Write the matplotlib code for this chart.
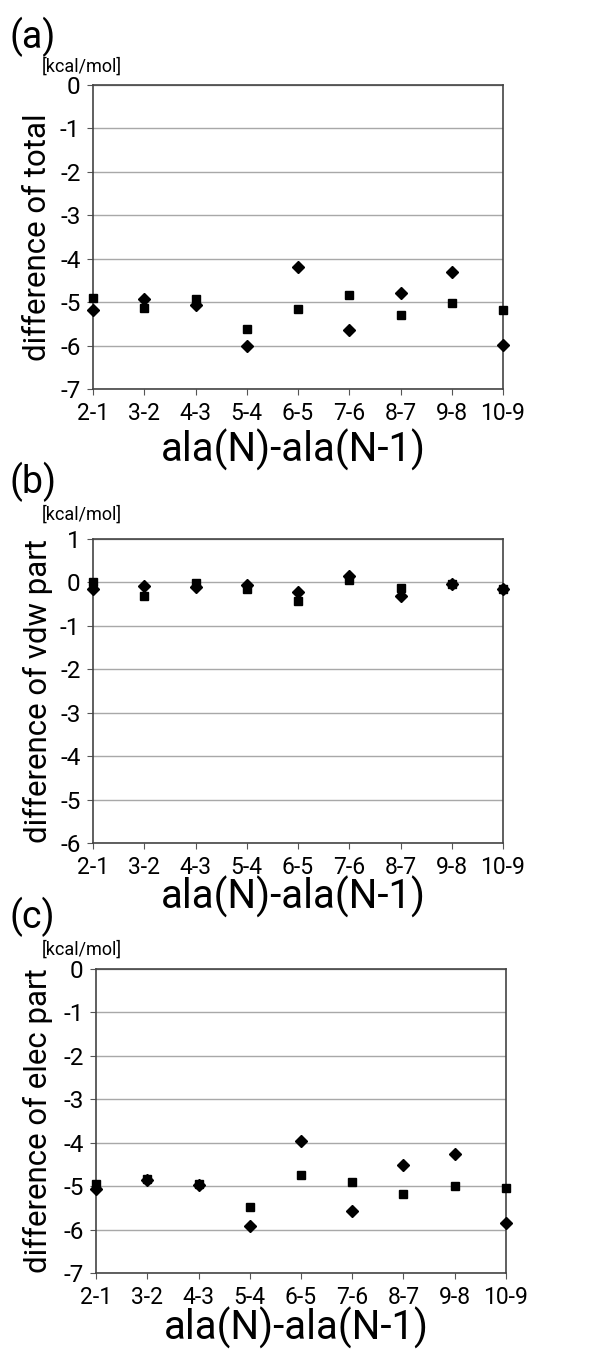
import matplotlib.pyplot as plt

# x categories
pairs = ['2-1', '3-2', '4-3', '5-4', '6-5', '7-6', '8-7', '9-8', '10-9']

# (a) total
total_diamond = [-5.19, -4.93, -5.06, -6.00, -4.20, -5.64, -4.80, -4.31, -5.98]
total_square = [-4.90, -5.13, -4.93, -5.62, -5.16, -4.83, -5.30, -5.03, -5.19]

# (b) vdw part
vdw_diamond = [-0.15, -0.08, -0.10, -0.06, -0.23, 0.14, -0.31, -0.03, -0.15]
vdw_square = [0.02, -0.31, -0.01, -0.15, -0.43, 0.06, -0.13, -0.04, -0.15]

# (c) elec part
elec_diamond = [-5.06, -4.85, -4.97, -5.92, -3.97, -5.58, -4.52, -4.27, -5.86]
elec_square = [-4.94, -4.83, -4.94, -5.48, -4.74, -4.90, -5.18, -5.00, -5.05]

plt.rcParams['font.family'] = ['Roboto', 'DejaVu Sans']

W, H = 605, 1353
fig = plt.figure(figsize=(W / 100, H / 100), dpi=100)


def px(x0, y0, x1, y1):
    return [x0 / W, 1 - y1 / H, (x1 - x0) / W, (y1 - y0) / H]


# tag, y label, diamonds, squares, y range, axes box (px), xlabel y, tag y, unit y
panels = [
    ('(a)', 'difference of total', total_diamond, total_square, (-7, 0), (93, 85, 503, 389), 450, 37, 67),
    ('(b)', 'difference of vdw part', vdw_diamond, vdw_square, (-6, 1), (93, 539, 503, 843), 897, 482, 515),
    ('(c)', 'difference of elec part', elec_diamond, elec_square, (-7, 0), (96, 969, 506, 1273), 1328, 917, 950),
]

x = list(range(len(pairs)))
for tag, ylab, dia, sq, ylim, box, xlab_y, tag_y, unit_y in panels:
    x0, y0, x1, y1 = box
    ax = fig.add_axes(px(x0, y0, x1, y1))
    ax.plot(x, dia, linestyle='none', marker='D', color='black', markersize=6.5, clip_on=False, zorder=3)
    ax.plot(x, sq, linestyle='none', marker='s', color='black', markersize=6, clip_on=False, zorder=3)
    ax.set_xlim(0, len(pairs) - 1)
    ax.set_ylim(*ylim)
    ax.set_xticks(x)
    ax.set_xticklabels(pairs, fontsize=16.5)
    ax.set_yticks(range(ylim[0], ylim[1] + 1))
    ax.set_yticklabels([str(v) for v in range(ylim[0], ylim[1] + 1)], fontsize=17.5)
    ax.tick_params(direction='out', length=4, width=0.8, color='#555555', pad=5)
    ax.grid(axis='y', color='#a8a8a8', linewidth=1)
    ax.set_axisbelow(True)
    for s in ax.spines.values():
        s.set_color('#444444')
        s.set_linewidth(1.2)

    fig.text(10 / W, 1 - tag_y / H, tag, fontsize=27, va='center', ha='left')
    fig.text(42 / W, 1 - unit_y / H, '[kcal/mol]', fontsize=13, va='center', ha='left')
    fig.text(38 / W, 1 - ((y0 + y1) / 2) / H, ylab, fontsize=22.5, rotation=90,
             va='center', ha='center')
    fig.text(((x0 + x1) / 2 - 5) / W, 1 - xlab_y / H, 'ala(N)-ala(N-1)', fontsize=29,
             va='center', ha='center')

fig.savefig('out.png', dpi=100, facecolor='white')
